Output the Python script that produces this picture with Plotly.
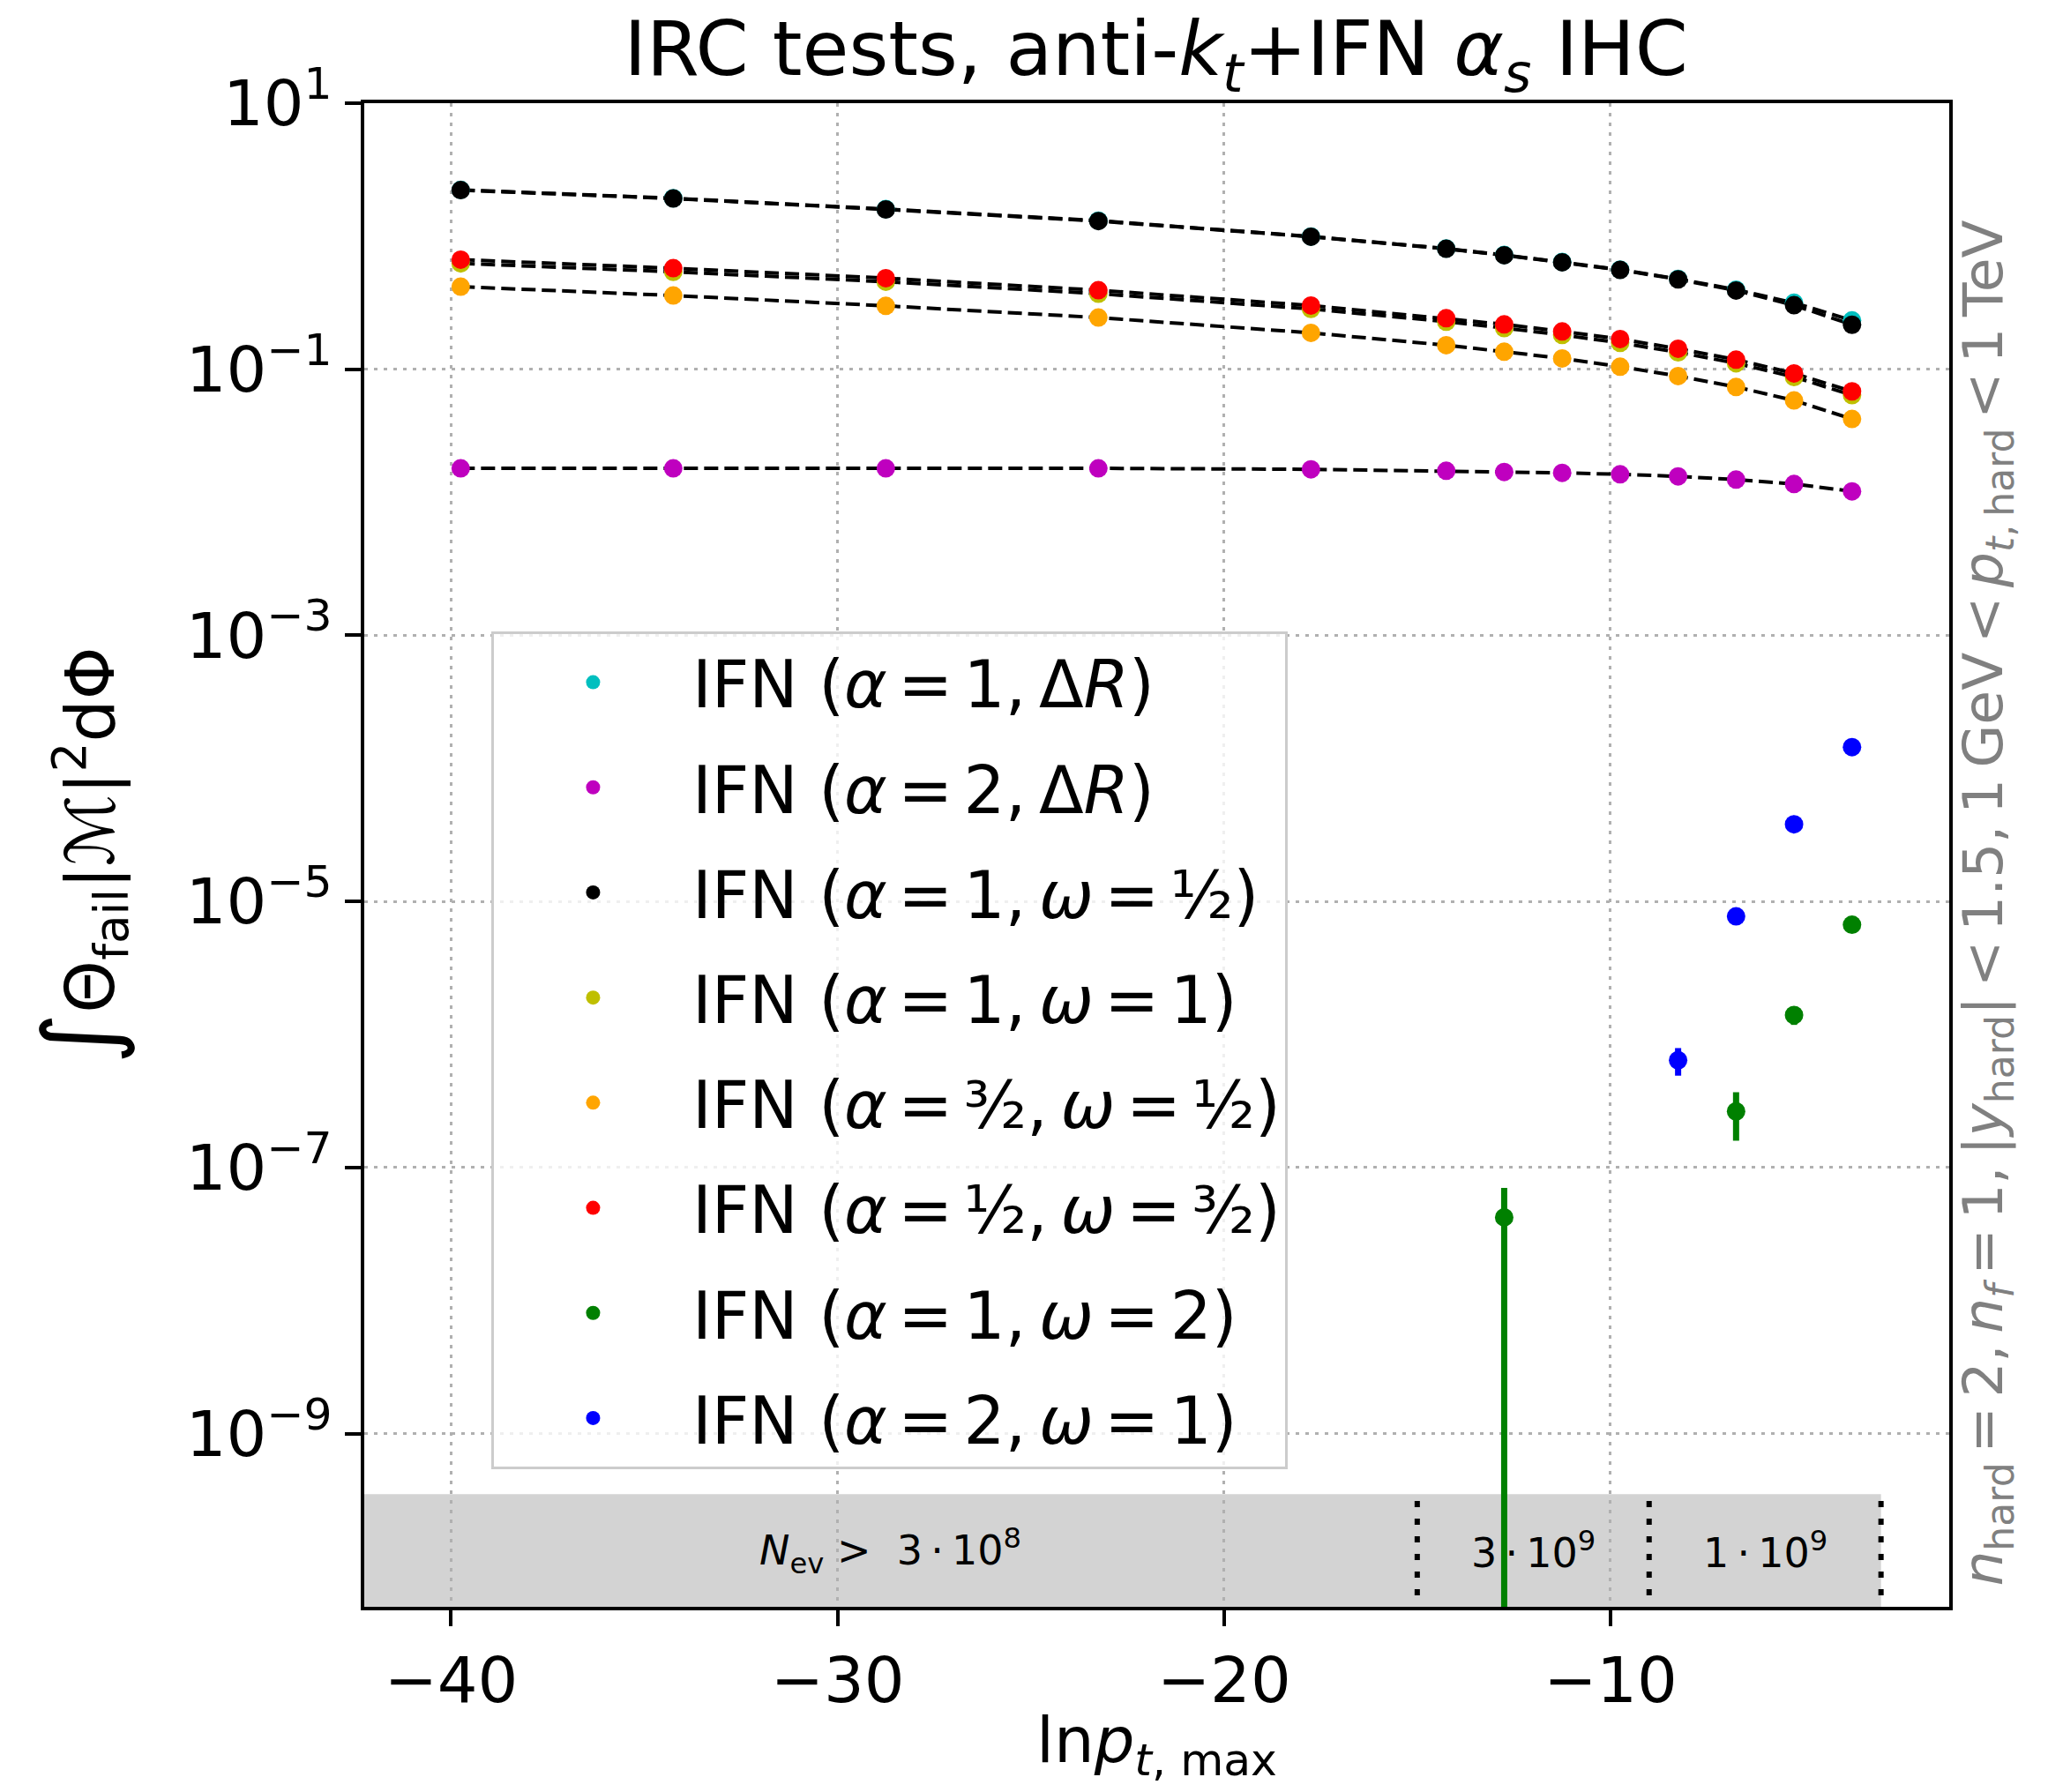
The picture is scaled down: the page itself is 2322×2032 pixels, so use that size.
import numpy as np
import plotly.graph_objects as go

# ln p_t,max values (shared by the dense series)
lnpt = [-39.75, -34.25, -28.75, -23.25, -17.75, -14.25, -12.75, -11.25, -9.75, -8.25, -6.75, -5.25, -3.75]

# integrated failure rates
y_a1_dR = [2.23, 1.93, 1.60, 1.31, 0.995, 0.808, 0.723, 0.640, 0.561, 0.478, 0.396, 0.316, 0.233]
y_a2_dR = [0.0180, 0.0180, 0.0180, 0.0180, 0.0177, 0.01725, 0.0169, 0.01665, 0.01623, 0.01567, 0.01481, 0.01372, 0.01209]
y_a1_wh = [2.22, 1.92, 1.59, 1.30, 0.992, 0.805, 0.720, 0.637, 0.558, 0.474, 0.391, 0.303, 0.216]
y_a1_w1 = [0.625, 0.540, 0.455, 0.370, 0.284, 0.228, 0.204, 0.181, 0.158, 0.134, 0.111, 0.0875, 0.0640]
y_a32_wh = [0.4175, 0.3584, 0.2997, 0.2446, 0.1878, 0.1517, 0.1355, 0.1206, 0.1045, 0.0889, 0.0736, 0.0583, 0.0423]
y_ah_w32 = [0.667, 0.575, 0.484, 0.393, 0.3015, 0.242, 0.2175, 0.1925, 0.1688, 0.1427, 0.1181, 0.0931, 0.0682]

# sparse series (zero rates not drawn on log axis)
lnpt_a1_w2 = [-12.75, -6.75, -5.25, -3.75]
y_a1_w2 = [4.22e-8, 2.64e-7, 1.40e-6, 6.68e-6]
err_a1_w2_up = [2.8e-8, 1.04e-7, 2.2e-7, 2.0e-7]
err_a1_w2_dn = [4.22e-8, 1.05e-7, 2.2e-7, 2.0e-7]

lnpt_a2_w1 = [-8.25, -6.75, -5.25, -3.75]
y_a2_w1 = [6.40e-7, 7.72e-6, 3.80e-5, 1.445e-4]
err_a2_w1 = [1.5e-7, 4e-7, 1.2e-6, 3e-6]

S = "\u2006"   # narrow space, close to mathtext spacing
C = "\u2009"
labels = [
    f"IFN (<i>α</i>{S}={S}1,{C}Δ<i>R</i>)",
    f"IFN (<i>α</i>{S}={S}2,{C}Δ<i>R</i>)",
    f"IFN (<i>α</i>{S}={S}1,{C}<i>ω</i>{S}={S}½)",
    f"IFN (<i>α</i>{S}={S}1,{C}<i>ω</i>{S}={S}1)",
    f"IFN (<i>α</i>{S}={S}³⁄₂,{C}<i>ω</i>{S}={S}½)",
    f"IFN (<i>α</i>{S}={S}½,{C}<i>ω</i>{S}={S}³⁄₂)",
    f"IFN (<i>α</i>{S}={S}1,{C}<i>ω</i>{S}={S}2)",
    f"IFN (<i>α</i>{S}={S}2,{C}<i>ω</i>{S}={S}1)",
]
colors = ["#00bfbf", "#bf00bf", "#000000", "#bfbf00", "#ffa500", "#ff0000", "#008000", "#0000ff"]

# event-count band at the bottom
band_top = 3.5e-10
band_edges = [-15, -9, -3]
band_texts = [f"<i>N</i><sub>ev</sub> >  3{C}·{C}10<sup>8</sup>",
              f"3{C}·{C}10<sup>9</sup>", f"1{C}·{C}10<sup>9</sup>"]

xrange_ = [-42.245, -1.235]
yrange_log = [-10.302, 1.0]

FONT = "DejaVu Sans"

fig = go.Figure()

dense = [y_a1_dR, y_a2_dR, y_a1_wh, y_a1_w1, y_a32_wh, y_ah_w32]
for ys in dense:
    fig.add_trace(go.Scatter(x=lnpt, y=ys, mode="lines", showlegend=False,
                             line=dict(color="black", width=4, dash="16px,7px"),
                             hoverinfo="skip"))

for i, ys in enumerate(dense):
    fig.add_trace(go.Scatter(x=lnpt, y=ys, mode="markers", name=labels[i],
                             legendgroup=str(i),
                             marker=dict(color=colors[i], size=21)))

fig.add_trace(go.Scatter(x=lnpt_a1_w2, y=y_a1_w2, mode="markers", name=labels[6],
                         legendgroup="6",
                         marker=dict(color=colors[6], size=21),
                         error_y=dict(type="data", array=err_a1_w2_up, arrayminus=err_a1_w2_dn,
                                      symmetric=False, color=colors[6], thickness=7, width=0)))
fig.add_trace(go.Scatter(x=lnpt_a2_w1, y=y_a2_w1, mode="markers", name=labels[7],
                         legendgroup="7",
                         marker=dict(color=colors[7], size=21),
                         error_y=dict(type="data", array=err_a2_w1, color=colors[7],
                                      thickness=7, width=0)))

# grey band and its separators
fig.add_shape(type="rect", xref="x", yref="y", x0=-60, x1=band_edges[-1], y0=1e-13, y1=band_top,
              fillcolor="#d3d3d3", line=dict(width=0), layer="below")
for xe in band_edges:
    fig.add_shape(type="line", xref="x", yref="y", x0=xe, x1=xe, y0=1e-13, y1=band_top,
                  line=dict(color="black", width=6, dash="7px,13px"), layer="below")

ytext = (yrange_log[0] + np.log10(band_top)) / 2
text_x = [(xrange_[0] + band_edges[0]) / 2,
          (band_edges[0] + band_edges[1]) / 2,
          (band_edges[1] + band_edges[2]) / 2]
for tx, tt in zip(text_x, band_texts):
    fig.add_annotation(x=tx, y=ytext, xref="x", yref="y", text=tt, showarrow=False,
                       font=dict(family=FONT, size=46, color="black"))

# axis titles and side note
fig.add_annotation(x=0.5, y=-0.0915, xref="paper", yref="paper", yanchor="middle",
                   text="ln<i>p</i><sub><i>t</i>, max</sub>", showarrow=False,
                   font=dict(family=FONT, size=72, color="black"))
fig.add_annotation(x=-0.1792, y=0.4997, xref="paper", yref="paper", textangle=-90,
                   xanchor="center", yanchor="middle",
                   text='<span style="font-size:112px">∫</span>Θ<sub>fail</sub>|ℳ|<sup>2</sup>dΦ',
                   showarrow=False,
                   font=dict(family=FONT, size=76, color="black"))
fig.add_annotation(x=1.0234, y=0.0123, xref="paper", yref="paper", textangle=-90,
                   xanchor="center", yanchor="bottom",
                   text=f"<i>n</i><sub>hard</sub>{S}={S}2,{C}<i>n<sub>f</sub></i>{S}={S}1,{C}"
                        f"|<i>y</i><sub>hard</sub>|{S}<{S}1.5,{C}"
                        f"1{C}GeV{S}<{S}<i>p</i><sub><i>t</i>,{C}hard</sub>{S}<{S}1{C}TeV",
                   showarrow=False, font=dict(family=FONT, size=63, color="#808080"))

yt = [10.0 ** k for k in range(1, -10, -2)]
yt_text = ["10<sup>%s</sup>" % str(k).replace("-", "−") for k in range(1, -10, -2)]

axis_common = dict(showline=True, linecolor="black", linewidth=4, mirror=True,
                   ticks="outside", ticklen=18, tickwidth=4, tickcolor="black",
                   showgrid=True, gridcolor="#b0b0b0", gridwidth=3, griddash="4px,7px",
                   zeroline=False, automargin=False,
                   tickfont=dict(family=FONT, size=72, color="black"))

fig.update_xaxes(range=xrange_, tickvals=[-40, -30, -20, -10], **axis_common)
fig.update_yaxes(type="log", range=yrange_log, tickvals=yt, ticktext=yt_text, **axis_common)

fig.update_layout(
    width=2306, height=2016,
    margin=dict(l=405, r=104, t=109, b=202),
    plot_bgcolor="white", paper_bgcolor="white",
    title=dict(text="IRC tests, anti-<i>k<sub>t</sub></i>+IFN <i>α<sub>s</sub></i> IHC",
               x=0.5649, xanchor="center", y=0.9765, yanchor="middle",
               font=dict(family=FONT, size=86, color="black")),
    legend=dict(x=0.0801, y=0.6487, xanchor="left", yanchor="top",
                bgcolor="rgba(255,255,255,0.8)", bordercolor="#cccccc", borderwidth=3,
                font=dict(family=FONT, size=74, color="black"),
                tracegroupgap=20, itemwidth=215),
    font=dict(family=FONT),
)

fig.write_html("out.html")
